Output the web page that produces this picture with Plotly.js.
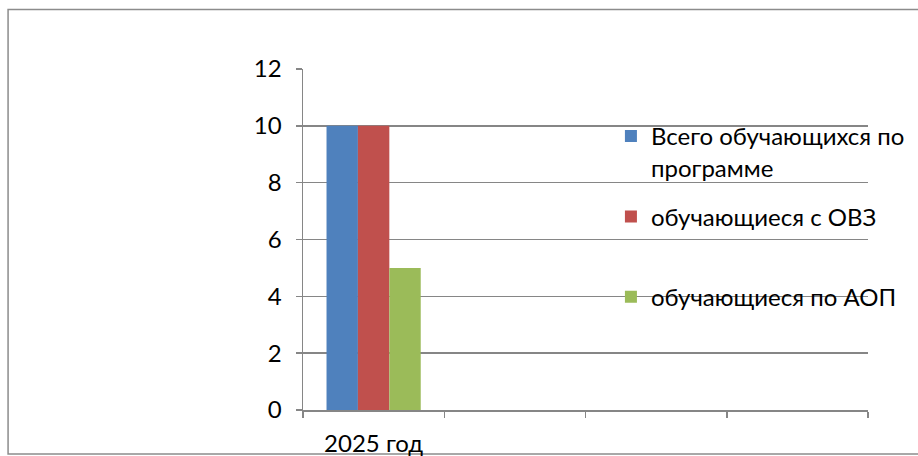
<!DOCTYPE html>
<html>
<head>
<meta charset="utf-8">
<script src="https://cdn.plot.ly/plotly-3.0.1.min.js"></script>
<style>html,body{margin:0;padding:0;background:#fff;}#chart{width:918px;height:456px;}</style>
</head>
<body>
<div id="chart"></div>
<script>
const categories = ["2025 год", " ", "  ", "   "];
const seriesNames = ["Всего обучающихся по<br>программе", "обучающиеся с ОВЗ", "обучающиеся по АОП"];
const seriesValues = [[10], [10], [5]];
const seriesColors = ["#4F81BD", "#C0504D", "#9BBB59"];
const yTicks = [0, 2, 4, 6, 8, 10, 12];

const legendIds = ["legend", "legend2", "legend3"];
const traces = seriesNames.map((n, i) => ({
  type: "bar",
  x: [categories[0]],
  y: seriesValues[i],
  name: n,
  marker: {color: seriesColors[i]},
  legend: legendIds[i],
  hoverinfo: "skip"
}));

const font = {family: "Lato, 'Open Sans', sans-serif", size: 24, color: "#000"};
function leg(y) {
  return {x: 0.545, xanchor: "left", y: y, yanchor: "middle", bgcolor: "rgba(0,0,0,0)",
          font: font, valign: "top", borderwidth: 0};
}

const layout = {
  width: 918, height: 456,
  margin: {l: 303, r: 50, t: 69, b: 46, pad: 0, autoexpand: false},
  paper_bgcolor: "#fff", plot_bgcolor: "#fff",
  font: font,
  barmode: "group",
  bargap: 0.333, bargroupgap: 0,
  showlegend: true,
  legend: leg(0.757),
  legend2: leg(0.566),
  legend3: leg(0.331),
  xaxis: {
    type: "category",
    categoryorder: "array", categoryarray: categories,
    tickvals: categories, ticktext: categories,
    range: [-0.5, 3.5],
    showgrid: false,
    showline: true, linecolor: "#868686", linewidth: 1.5,
    ticks: "outside", tickson: "boundaries", ticklen: 6, tickcolor: "#868686", tickwidth: 1.5,
    ticklabelstandoff: 12,
    tickfont: font, zeroline: false, fixedrange: true
  },
  yaxis: {
    range: [0, 12],
    tickvals: yTicks,
    showgrid: true, gridcolor: "#868686", gridwidth: 1.5,
    showline: true, linecolor: "#868686", linewidth: 1.5,
    ticks: "outside", ticklen: 6, tickcolor: "#868686", tickwidth: 1.5,
    ticklabelstandoff: 9,
    tickfont: font, zeroline: false, fixedrange: true
  },
  shapes: [{
    type: "rect", xref: "paper", yref: "paper",
    x0: -0.522, x1: 1.2, y0: -0.129, y1: 1.1745,
    line: {color: "#8c8c8c", width: 1.5}, fillcolor: "rgba(0,0,0,0)", layer: "below"
  }]
};

Plotly.newPlot("chart", traces, layout, {staticPlot: true, displayModeBar: false});
</script>
</body>
</html>
